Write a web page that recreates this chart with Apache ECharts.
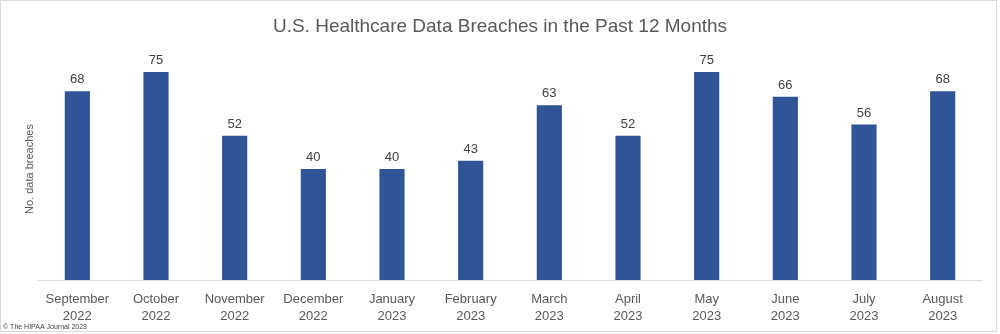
<!DOCTYPE html>
<html><head><meta charset="utf-8">
<script src="https://cdn.jsdelivr.net/npm/echarts@6/dist/echarts.min.js"></script>
<style>html,body{margin:0;padding:0;background:#fff}#c{width:1000px;height:334px}</style>
</head><body><div id="c"></div>
<script>
const categories = ['September\n2022','October\n2022','November\n2022','December\n2022','January\n2023','February\n2023','March\n2023','April\n2023','May\n2023','June\n2023','July\n2023','August\n2023'];
const breaches = [68,75,52,40,40,43,63,52,75,66,56,68];
const titleText = 'U.S. Healthcare Data Breaches in the Past 12 Months';
const yName = 'No. data breaches';
const footnote = '© The HIPAA Journal 2023';

const chart = echarts.init(document.getElementById('c'), null, {renderer:'canvas'});
chart.setOption({
  animation:false,
  backgroundColor:'#fff',
  title:{text:titleText,left:'center',top:12,textStyle:{fontFamily:'Liberation Sans',fontSize:19,fontWeight:'normal',color:'#595959'}},
  graphic:[
    {type:'rect',shape:{x:0.5,y:0.5,width:996,height:331},style:{fill:null,stroke:'#d9d9d9',lineWidth:1},silent:true},
    {type:'text',left:3,top:324,style:{text:footnote,fontSize:7,fontFamily:'Liberation Sans',fill:'#404040'}}
  ],
  grid:{left:38,right:18,top:58,bottom:54},
  xAxis:{type:'category',data:categories,
    axisLine:{lineStyle:{color:'#d9d9d9'}},axisTick:{show:false},
    axisLabel:{color:'#595959',fontSize:13,fontFamily:'Liberation Sans',lineHeight:17,margin:11,interval:0}},
  yAxis:{type:'value',min:0,max:80,show:true,
    name:yName,nameLocation:'middle',nameGap:3,nameRotate:90,
    nameTextStyle:{color:'#595959',fontSize:11,fontFamily:'Liberation Sans'},
    axisLine:{show:false},axisTick:{show:false},axisLabel:{show:false},splitLine:{show:false}},
  series:[{type:'bar',data:breaches,barWidth:'32%',
    itemStyle:{color:'#2F5597'},
    label:{show:true,position:'top',distance:5,color:'#404040',fontSize:13,fontFamily:'Liberation Sans'}}]
});
</script></body></html>
